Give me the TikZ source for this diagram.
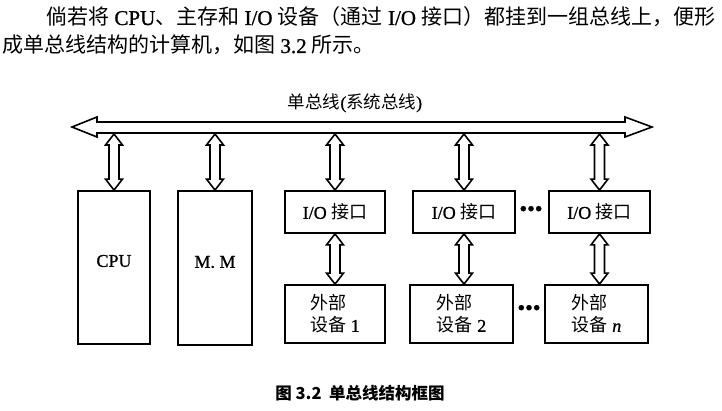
\documentclass[tikz,border=0pt]{standalone}
\usepackage{fontspec}
\setmainfont{Liberation Serif}[FakeBold=1]
\newfontfamily\cjk{Noto Sans CJK SC}
\usetikzlibrary{calc}
\newcommand\zhs[1]{{\cjk #1}}
\tikzset{
  box/.style={draw, line width=1.8pt, inner sep=0pt, font=\fontsize{18}{22}\selectfont},
  dbl/.style={draw, line width=1.6pt, fill=white, line join=miter},
  dotsnode/.style={inner sep=0pt, font=\fontsize{22}{22}\selectfont},
}
\newcommand\vdbl[2]{\draw[dbl] let \p1=#1,\p2=#2 in
  (\x1,\y1) -- (\x1-8.5pt,\y1-11pt) -- (\x1-5pt,\y1-11pt) -- (\x1-5pt,\y2+11pt)
  -- (\x1-8.5pt,\y2+11pt) -- (\x1,\y2) -- (\x1+8.5pt,\y2+11pt) -- (\x1+5pt,\y2+11pt)
  -- (\x1+5pt,\y1-11pt) -- (\x1+8.5pt,\y1-11pt) -- cycle;}
\begin{document}
\begin{tikzpicture}[x=1pt,y=-1pt]
\useasboundingbox[fill=white] (0,0) rectangle (722,411);
% body text
\node[anchor=base west, inner sep=0pt, font=\fontsize{21}{28}\selectfont] (l1) at (46,25)
  {\zhs{倘若将} CPU\zhs{、主存和} I/O \zhs{设备（通过} I/O \zhs{接口）都挂到一组总线上，便形}};
\node[anchor=base west, inner sep=0pt, font=\fontsize{21}{28}\selectfont] (l2) at (2,53)
  {\zhs{成单总线结构的计算机，如图} 3.2 \zhs{所示。}};
% bus
\draw[dbl] (72,127) -- (97,117) -- (97,122) -- (625,122) -- (625,117) -- (652,127)
  -- (625,137) -- (625,133) -- (97,133) -- (97,137) -- cycle;
\coordinate (busbot) at (362,134);
\node[inner sep=0pt, font=\fontsize{17.5}{20}\selectfont] (buslabel) at (355,103)
  {\zhs{单总线}(\zhs{系统总线})};
% boxes
\node[box, minimum width=72pt, minimum height=153pt] (cpu) at (114,267.5) {};
\node[inner sep=0pt, font=\fontsize{18}{22}\selectfont] (cput) at (cpu.center |- 0,261) {CPU};
\node[box, minimum width=74pt, minimum height=154pt] (mm) at (215,268) {};
\node[inner sep=0pt, font=\fontsize{18}{22}\selectfont] (mmt) at (mm.center |- 0,262) {M. M};
\node[box, minimum width=100pt, minimum height=42pt] (io1) at (335,212) {I/O \zhs{接口}};
\node[box, minimum width=102pt, minimum height=42pt] (io2) at (464,212) {I/O \zhs{接口}};
\node[box, minimum width=101pt, minimum height=42pt] (ion) at (599.5,212) {I/O \zhs{接口}};
\node[box, minimum width=100pt, minimum height=58pt, align=left] (d1) at (335,314)
  {\zhs{外部}\\\zhs{设备} 1};
\node[box, minimum width=103pt, minimum height=58pt, align=left] (d2) at (461.5,314)
  {\zhs{外部}\\\zhs{设备} 2};
\node[box, minimum width=103pt, minimum height=58pt, align=left] (dn) at (596.5,314)
  {\zhs{外部}\\\zhs{设备} \textit{n}};
% dots
\node[dotsnode] (dots1) at (531,211) {\textbullet\textbullet\textbullet};
\node[dotsnode] (dots2) at (529,310) {\textbullet\textbullet\textbullet};
% vertical double arrows
\vdbl{(busbot -| cpu.north)}{(cpu.north)}
\vdbl{(busbot -| mm.north)}{(mm.north)}
\vdbl{(busbot -| io1.north)}{(io1.north)}
\vdbl{(busbot -| io2.north)}{(io2.north)}
\vdbl{(busbot -| ion.north)}{(ion.north)}
\vdbl{(io1.south)}{(d1.north -| io1.south)}
\vdbl{(io2.south)}{(d2.north -| io2.south)}
\vdbl{(ion.south)}{(dn.north -| ion.south)}
% caption
\node[inner sep=0pt, font=\fontsize{16.5}{20}\selectfont\cjk\bfseries] (cap) at (360,393)
  {图 3.2\ \ 单总线结构框图};
\end{tikzpicture}
\end{document}
